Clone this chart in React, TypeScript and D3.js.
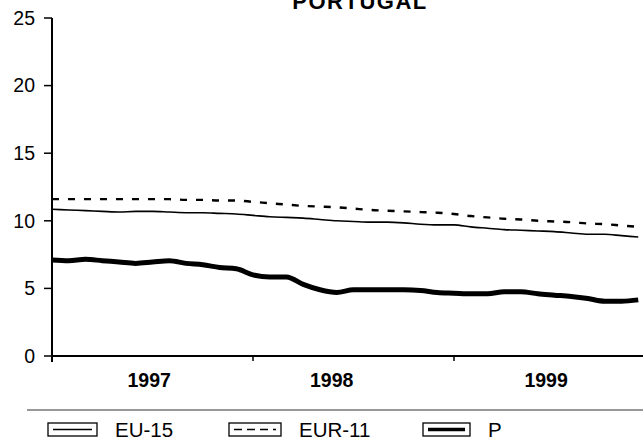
import React from "react";
import * as d3 from "d3";

// monthly unemployment rate, Jan 1997 - Dec 1999
const eu15 = [
  10.85, 10.8, 10.75, 10.7, 10.65, 10.7, 10.7, 10.65, 10.6, 10.6, 10.55, 10.5,
  10.4, 10.3, 10.25, 10.2, 10.1, 10.0, 9.95, 9.9, 9.9, 9.85, 9.75, 9.7,
  9.7, 9.55, 9.45, 9.35, 9.3, 9.25, 9.2, 9.1, 9.0, 9.0, 8.9, 8.8,
];
const eur11 = [
  11.6, 11.6, 11.6, 11.6, 11.6, 11.6, 11.6, 11.6, 11.55, 11.55, 11.5, 11.5,
  11.4, 11.3, 11.2, 11.1, 11.05, 11.0, 10.9, 10.8, 10.75, 10.7, 10.65, 10.6,
  10.5, 10.35, 10.25, 10.15, 10.1, 10.0, 9.95, 9.9, 9.8, 9.75, 9.65, 9.55,
];
const portugal = [
  7.1, 7.05, 7.15, 7.05, 6.95, 6.85, 6.95, 7.05, 6.85, 6.75, 6.55, 6.45,
  6.0, 5.85, 5.85, 5.3, 4.9, 4.7, 4.9, 4.9, 4.9, 4.9, 4.85, 4.7,
  4.65, 4.6, 4.6, 4.75, 4.75, 4.6, 4.5, 4.4, 4.25, 4.05, 4.05, 4.15,
];
const years = ["1997", "1998", "1999"];
const yearLabelPos = [5.8, 16.7, 29.5]; // month position of year labels
const yearTicks = [12, 24];
const yTicks = [0, 5, 10, 15, 20, 25];

const font = "'Liberation Sans', Arial, Helvetica, sans-serif";

export default function App() {
  const width = 643;
  const height = 445;

  const x = d3.scaleLinear().domain([0, 12]).range([52, 253]);
  const y = d3.scaleLinear().domain([0, 25]).range([356, 18]);

  const line = d3
    .line<number>()
    .x((_, i) => x(i))
    .y((d) => y(d))
    .curve(d3.curveMonotoneX);

  const series = [
    { name: "EU-15", data: eu15, width: 1.6, dash: undefined, lx: 48, lw: 49 },
    { name: "EUR-11", data: eur11, width: 2.4, dash: "7,9", lx: 229, lw: 52 },
    { name: "P", data: portugal, width: 5, dash: undefined, lx: 423, lw: 47 },
  ];

  return (
    <svg
      width={width}
      height={height}
      style={{ position: "absolute", left: 0, top: 0, background: "#fff" }}
      fontFamily={font}
    >
      <text
        x={360}
        y={9}
        textAnchor="middle"
        fontWeight="bold"
        fontSize={22}
        letterSpacing={1.5}
      >
        PORTUGAL
      </text>

      {/* y axis */}
      <line x1={52} x2={52} y1={y(25)} y2={362} stroke="#000" strokeWidth={2} />
      {yTicks.map((t) => (
        <g key={t}>
          <line x1={44} x2={52} y1={y(t)} y2={y(t)} stroke="#000" strokeWidth={1.5} />
          <text
            x={35}
            y={y(t)}
            dy="0.35em"
            textAnchor="end"
            fontSize={19.5}
          >
            {t}
          </text>
        </g>
      ))}

      {/* x axis */}
      <line x1={52} x2={width} y1={y(0)} y2={y(0)} stroke="#000" strokeWidth={2} />
      {yearTicks.map((t) => (
        <line key={t} x1={x(t)} x2={x(t)} y1={y(0)} y2={y(0) + 5} stroke="#000" strokeWidth={1.5} />
      ))}
      {years.map((yr, i) => (
        <text
          key={yr}
          x={x(yearLabelPos[i])}
          y={387}
          textAnchor="middle"
          fontWeight="bold"
          fontSize={19.5}
        >
          {yr}
        </text>
      ))}

      {/* series */}
      {series.map((s) => (
        <path
          key={s.name}
          d={line(s.data) ?? ""}
          fill="none"
          stroke="#000"
          strokeWidth={s.width}
          strokeDasharray={s.dash}
          strokeLinejoin="round"
        />
      ))}

      {/* legend */}
      <line x1={27} x2={width} y1={410} y2={410} stroke="#333" strokeWidth={1.2} />
      {series.map((s) => (
        <g key={s.name}>
          <rect x={s.lx} y={423} width={s.lw} height={13} fill="none" stroke="#000" strokeWidth={1.3} />
          <line
            x1={s.lx + 5}
            x2={s.lx + s.lw - 5}
            y1={429.5}
            y2={429.5}
            stroke="#000"
            strokeWidth={s.name === "P" ? 3.5 : s.name === "EUR-11" ? 1.6 : 1.3}
            strokeDasharray={s.dash ? "8,5" : undefined}
          />
          <text x={s.lx + s.lw + 18} y={437} fontSize={20.5}>
            {s.name}
          </text>
        </g>
      ))}
    </svg>
  );
}
